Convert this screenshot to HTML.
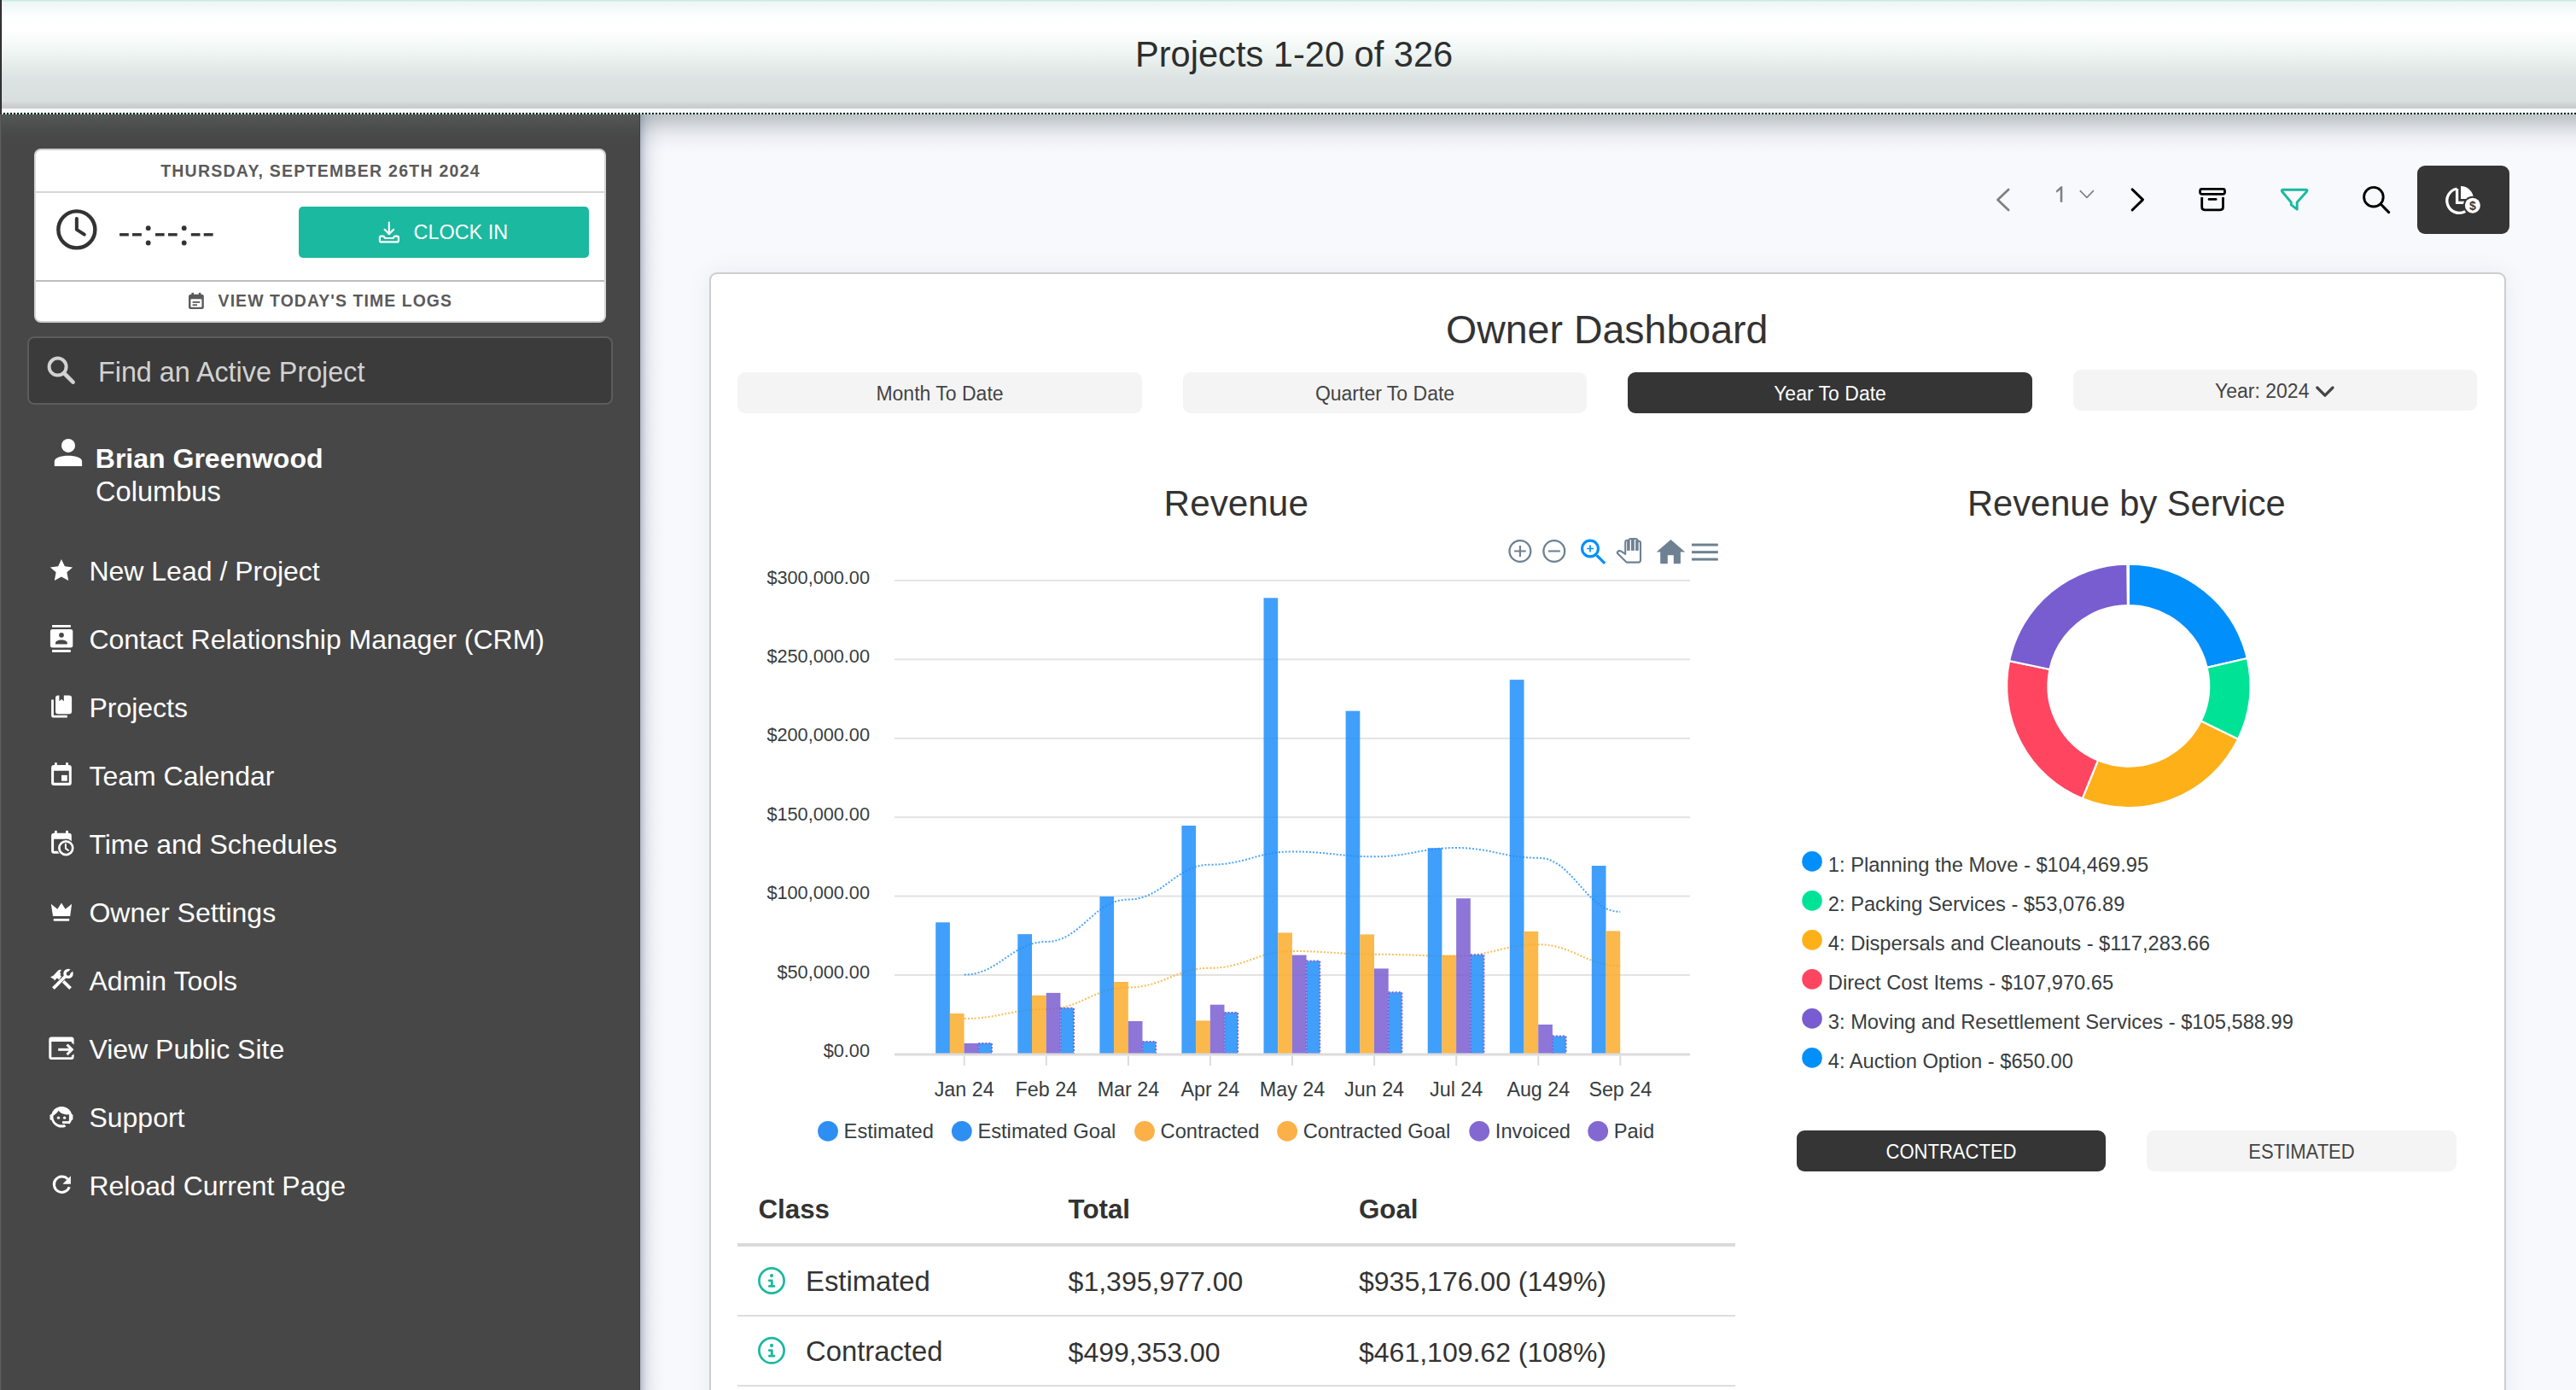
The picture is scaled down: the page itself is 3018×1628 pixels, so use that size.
<!DOCTYPE html>
<html><head><meta charset="utf-8">
<style>
*{box-sizing:border-box;margin:0;padding:0}
html,body{width:3018px;height:1628px;overflow:hidden}
body{position:relative;background:#f8f9fd;font-family:"Liberation Sans",sans-serif;color:#333}
.a{position:absolute}
.t{position:absolute;white-space:nowrap;line-height:1}
#hdr{left:0;top:0;width:3018px;height:128px;background:linear-gradient(to bottom,#c8ebe2 0,#c8ebe2 1px,#ecf7f4 2px,#f6fbfa 12px,#fdfefe 20px,#ffffff 35px,#f7fbfa 48px,#eef5f3 62px,#e5ecea 76px,#dee4e3 90px,#dbe1e1 100px,#d9dfdf 118px,#cdd1d1 123px,#c6caca 127px,#c6caca 128px)}
#hdrl{z-index:2;left:0;top:0;width:2px;height:134px;background:linear-gradient(to right,#3a3a3a 0 1px,#1f1f1f 1px 2px)}
#band{left:0;top:127px;width:3018px;height:5px;background:linear-gradient(to bottom,#f0f0f0,#fafafa 2px,#f6f6f6)}
#dots{left:0;top:132px;width:3018px;height:2px;background:repeating-linear-gradient(to right,#111 0 2px,#d6f6ef 2px 4px)}
#side{left:0;top:134px;width:750px;height:1494px;background:#474747}
#sidetop{left:0;top:134px;width:750px;height:40px;background:linear-gradient(to bottom,#545957,#4e514f 10px,#4a4c4b 18px,#484848 26px,#474747 40px)}
#sidel{left:0;top:134px;width:2px;height:1494px;background:linear-gradient(to right,#5e5e5e 0 1px,#4e4e4e 1px 2px)}
</style></head><body>
<div class="a" id="hdr"></div>
<div class="a" id="hdrl"></div>
<div class="a" id="band"></div>
<div class="a" id="dots"></div>
<div class="t" style="left:1330px;top:42.7px;font-size:41.6px;color:#2e2e2e">Projects 1-20 of 326</div>

<div class="a" id="side"></div>
<div class="a" id="sidetop"></div>
<div class="a" id="sidel"></div>

<!-- sidebar card -->

<div class="a" style="left:40px;top:174px;width:670px;height:204px;background:#fff;border:2px solid #cdcdcd;border-left-color:#d6d6d6;border-right-color:#d6d6d6;border-radius:8px"></div>
<div class="a" style="left:42px;top:223.5px;width:666px;height:2px;background:#d6d6d6"></div>
<div class="a" style="left:42px;top:328px;width:666px;height:2px;background:#bdbdbd"></div>
<div class="t" style="left:42px;width:666px;text-align:center;top:190.7px;font-size:19.5px;font-weight:bold;letter-spacing:1.25px;color:#5a5a5a;padding-left:1px">THURSDAY, SEPTEMBER 26TH 2024</div>
<div class="a" style="left:350px;top:242.4px;width:340px;height:59.4px;background:#1bb99f;border-radius:5px"></div>
<div class="t" style="left:484.6px;top:261.1px;font-size:23.4px;color:#fff">CLOCK IN</div>
<div class="t" style="left:255.6px;top:343.4px;font-size:19.4px;font-weight:bold;letter-spacing:1.1px;color:#5a5a5a">VIEW TODAY'S TIME LOGS</div>
<!-- search -->
<div class="a" style="left:32px;top:394px;width:686px;height:79.5px;background:#3b3b3b;border:2px solid #5c5c5c;border-radius:8px"></div>
<div class="t" style="left:115px;top:419.5px;font-size:32.3px;color:#d2d2d2">Find an Active Project</div>
<!-- user -->
<div class="t" style="left:111.8px;top:520.9px;font-size:32px;font-weight:bold;color:#fff">Brian Greenwood</div>
<div class="t" style="left:112px;top:559.7px;font-size:32.6px;color:#fff">Columbus</div>
<!-- nav -->
<div class="t" style="left:104.4px;top:653.4px;font-size:32px;color:#fff">New Lead / Project</div>
<div class="t" style="left:104.4px;top:732.9px;font-size:32px;color:#fff">Contact Relationship Manager (CRM)</div>
<div class="t" style="left:104.4px;top:812.9px;font-size:32px;color:#fff">Projects</div>
<div class="t" style="left:104.4px;top:892.9px;font-size:32px;color:#fff">Team Calendar</div>
<div class="t" style="left:104.4px;top:972.9px;font-size:32px;color:#fff">Time and Schedules</div>
<div class="t" style="left:104.4px;top:1052.9px;font-size:32px;color:#fff">Owner Settings</div>
<div class="t" style="left:104.4px;top:1132.9px;font-size:32px;color:#fff">Admin Tools</div>
<div class="t" style="left:104.4px;top:1212.9px;font-size:32px;color:#fff">View Public Site</div>
<div class="t" style="left:104.4px;top:1292.9px;font-size:32px;color:#fff">Support</div>
<div class="t" style="left:104.4px;top:1372.9px;font-size:32px;color:#fff">Reload Current Page</div>

<svg class="a" style="left:0;top:0" width="3018" height="1628" viewBox="0 0 3018 1628">
<!-- clock -->
<g stroke="#333" fill="none" stroke-linecap="round" stroke-linejoin="round">
<circle cx="89.85" cy="268.9" r="21.5" stroke-width="4.4"/>
<path d="M89.85 256 V268.9 L98.8 274.6" stroke-width="4"/>
</g>
<g fill="#333">
<rect x="140.1" y="273.1" width="10.7" height="3.4"/><rect x="155" y="273.1" width="10.9" height="3.4"/>
<circle cx="173.7" cy="267.2" r="2.9"/><circle cx="173.7" cy="284.5" r="2.9"/>
<rect x="182" y="273.1" width="10.6" height="3.4"/><rect x="197" y="273.1" width="10.7" height="3.4"/>
<circle cx="215.7" cy="267.2" r="2.9"/><circle cx="215.7" cy="284.5" r="2.9"/>
<rect x="223.8" y="273.1" width="10.7" height="3.4"/><rect x="238.7" y="273.1" width="10.9" height="3.4"/>
</g>
<!-- clock in icon -->
<g stroke="#fff" fill="none" stroke-width="2.2" stroke-linecap="round" stroke-linejoin="round">
<path d="M455.9 260.6 V274"/><path d="M450.6 268.8 L455.9 274.1 L461.2 268.8"/>
<path d="M449.5 276.6 H446.6 Q444.9 276.6 444.9 278.3 V281.7 Q444.9 283.4 446.6 283.4 H465.2 Q466.9 283.4 466.9 281.7 V278.3 Q466.9 276.6 465.2 276.6 H462.3 L460.6 279 H451.2 Z"/>
</g>
<!-- view logs calendar -->
<g>
<rect x="221" y="344.8" width="17.8" height="17.3" rx="2.5" fill="#5a5a5a"/>
<rect x="223.4" y="350.2" width="13" height="9.6" rx="0.8" fill="#fff"/>
<rect x="224.4" y="342.9" width="2.6" height="3" fill="#5a5a5a"/><rect x="232.8" y="342.9" width="2.6" height="3" fill="#5a5a5a"/>
<rect x="225.6" y="353" width="8.6" height="1.8" fill="#5a5a5a"/><rect x="225.6" y="356.3" width="5.4" height="1.8" fill="#5a5a5a"/>
</g>
<!-- search icon -->
<g stroke="#d2d2d2" fill="none" stroke-linecap="round">
<circle cx="67.6" cy="429.6" r="10" stroke-width="4"/>
<path d="M75 437 L85.6 447.6" stroke-width="4.6"/>
</g>
<!-- person -->
<g fill="#fff">
<circle cx="80" cy="521.9" r="8"/>
<path d="M63.8 546 V540.5 C63.8 536.2 71 533.8 80 533.8 C89 533.8 96.1 536.2 96.1 540.5 V546 Z"/>
<!-- star -->
<path d="M71.9 655.1 L75.9 663.3 L85.1 664.4 L78.4 670.2 L80.2 679.9 L71.9 675.4 L63.8 679.9 L65.6 670.2 L58.8 664.4 L68.2 663.3 Z"/>
<!-- crm -->
<rect x="61" y="732" width="21.9" height="2.8" rx="0.6"/>
<rect x="61" y="761.1" width="21.9" height="2.8" rx="0.6"/>
<path fill-rule="evenodd" d="M61.4 737.1 H82.8 Q85.3 737.1 85.3 739.6 V756.1 Q85.3 758.6 82.8 758.6 H61.4 Q58.9 758.6 58.9 756.1 V739.6 Q58.9 737.1 61.4 737.1 Z M72 740.9 A2.9 2.9 0 1 0 72 746.7 A2.9 2.9 0 1 0 72 740.9 Z M65 754.6 H78.8 V753 C78.8 750.8 75.5 749.4 71.9 749.4 C68.3 749.4 65 750.8 65 753 Z"/>
<!-- projects -->
<path fill-rule="evenodd" d="M68 814.6 H81.1 Q84.1 814.6 84.1 817.6 V833.2 Q84.1 836.2 81.1 836.2 H68 Q65 836.2 65 833.2 V817.6 Q65 814.6 68 814.6 Z M69.4 814.6 V821.3 L72.1 819 L74.8 821.3 V814.6 Z"/>
<path d="M60.1 819.5 H62.9 V837.8 H78.8 V840.6 H63 Q60.1 840.6 60.1 837.7 Z"/>
<!-- team calendar -->
<path fill-rule="evenodd" d="M63.1 896 H80.8 Q83.8 896 83.8 899 V917 Q83.8 920 80.8 920 H63.1 Q60.1 920 60.1 917 V899 Q60.1 896 63.1 896 Z M63.1 902.8 V916.8 H80.8 V902.8 Z"/>
<rect x="72" y="907.9" width="6.8" height="6.8"/>
<rect x="64" y="893.2" width="2.8" height="3.5"/><rect x="77.1" y="893.2" width="2.9" height="3.5"/>
<!-- time and schedules -->
<path fill-rule="evenodd" d="M63.1 975.7 H80.8 Q83.8 975.7 83.8 978.7 V996.8 Q83.8 999.8 80.8 999.8 H63.1 Q60.1 999.8 60.1 996.8 V978.7 Q60.1 975.7 63.1 975.7 Z M63.1 982.7 V996.8 H80.8 V982.7 Z"/>
<rect x="64" y="972.9" width="2.8" height="3.5"/><rect x="77.1" y="972.9" width="2.9" height="3.5"/>
</g>
<circle cx="77.3" cy="993.2" r="10.4" fill="#474747"/>
<g stroke="#fff" fill="none">
<circle cx="77.3" cy="993.2" r="7.9" stroke-width="2.7"/>
<path d="M76.9 988.8 V993.6 L80 996" stroke-width="2" stroke-linecap="round" stroke-linejoin="round"/>
</g>
<g fill="#fff">
<!-- crown -->
<path d="M59.8 1058.8 L67.3 1064.8 L72 1057.6 L76.6 1064.8 L84.1 1058.8 L82.2 1072.9 H62 Z"/>
<rect x="62.6" y="1076" width="18.7" height="2.7" rx="1"/>
</g>
<!-- admin tools -->
<g stroke="#fff" stroke-width="3.8" fill="none" stroke-linecap="butt">
<path d="M62.4 1157.7 L77.6 1142.5"/>
<path d="M82.6 1157.7 L74.2 1149.3"/>
</g>
<circle cx="80" cy="1140.4" r="4" fill="none" stroke="#fff" stroke-width="3.4"/>
<path d="M80.6 1139.6 L84.6 1135.6" stroke="#474747" stroke-width="3.4"/>
<path fill="#fff" d="M59 1144.4 L62.7 1142.6 L67.5 1137.2 Q69.5 1135.4 72 1136 L70 1139 L71.4 1140.3 L70.4 1142 L72 1143.6 L69.2 1147.4 L66.8 1145.6 L63.7 1148.8 L63.4 1147 Z"/>
<!-- view public site -->
<path fill="#fff" fill-rule="evenodd" d="M60.3 1214.6 H83.6 Q86.6 1214.6 86.6 1217.6 V1223.5 L83.8 1221 V1220 H60.3 V1238.2 H83.8 V1236.5 L86.6 1234.5 V1238 Q86.6 1241 83.6 1241 H60.3 Q57.3 1241 57.3 1238 V1217.6 Q57.3 1214.6 60.3 1214.6 Z"/>
<g stroke="#fff" stroke-width="3" fill="none"><path d="M68.2 1229.3 H84"/><path d="M78.5 1223.5 L84.3 1229.3 L78.5 1235.1"/></g>
<!-- support -->
<circle cx="72.2" cy="1308.2" r="12.3" fill="#fff"/>
<rect x="58.5" y="1305.2" width="3" height="6.6" rx="1" fill="#fff"/>
<rect x="82.4" y="1305.2" width="3" height="6.6" rx="1" fill="#fff"/>
<path d="M62.4 1306.8 C64.6 1305.2 67 1303.8 68.6 1300.8 C71 1304.2 74.5 1305.4 78 1305.4 L80.9 1305.2 L80.9 1312 C80.9 1314.2 79.8 1316 77.8 1316.8 C76 1317.4 74 1317.5 72 1317.5 C66.4 1317.5 62.4 1313.2 62.4 1308 Z" fill="#474747"/>
<path d="M82.44 1317.75 A14 14 0 0 1 77.67 1321.09 L75.52 1316.02 A8.5 8.5 0 0 0 78.42 1314.00 Z" fill="#474747"/>
<rect x="73.1" y="1313.2" width="8.4" height="2.8" fill="#fff"/>
<circle cx="68.5" cy="1309.2" r="1.65" fill="#fff"/><circle cx="75.6" cy="1309.2" r="1.65" fill="#fff"/>
<!-- reload -->
<g stroke="#fff" fill="none" stroke-width="3"><path d="M79.3 1380.9 A9.2 9.2 0 1 0 81.2 1390.3"/></g>
<path fill="#fff" d="M82.9 1377.2 V1386.8 H73.4 Z"/>
</svg>

<!-- main shadows -->
<div class="a" style="left:750px;top:134px;width:2268px;height:46px;background:linear-gradient(to bottom,rgba(120,130,130,.44),rgba(120,130,130,.39) 6px,rgba(122,132,136,.31) 11px,rgba(125,135,145,.21) 18px,rgba(128,138,155,.11) 26px,rgba(130,140,160,.04) 36px,rgba(130,140,160,0))"></div>
<div class="a" style="left:749px;top:134px;width:1px;height:1494px;background:#3f3f3f"></div>
<div class="a" style="left:750px;top:134px;width:32px;height:1494px;background:linear-gradient(to right,rgba(100,115,140,.47),rgba(100,115,140,.33) 3px,rgba(100,115,140,.19) 7px,rgba(100,115,140,.1) 12px,rgba(100,115,140,.04) 19px,rgba(100,115,140,0) 30px)"></div>
<!-- toolbar -->
<div class="a" style="left:2832px;top:194px;width:108px;height:80px;background:#353535;border-radius:9px"></div>
<!-- card -->
<div class="a" style="left:831px;top:318.5px;width:2105px;height:1400px;background:#fff;border:2px solid #cdcdcd;border-radius:9px;box-shadow:0 0 26px rgba(80,90,110,.09)"></div>
<div class="t" style="left:1694px;top:363.2px;font-size:46.5px;color:#333">Owner Dashboard</div>
<div class="a" style="left:864px;top:436px;width:474px;height:48px;background:#f4f4f4;border-radius:9px"></div>
<div class="a" style="left:1386px;top:436px;width:473px;height:48px;background:#f4f4f4;border-radius:9px"></div>
<div class="a" style="left:1907px;top:436px;width:474px;height:48px;background:#353535;border-radius:9px"></div>
<div class="a" style="left:2429px;top:433px;width:473px;height:48px;background:#f4f4f4;border-radius:9px"></div>
<div class="t" style="left:864px;width:474px;text-align:center;top:449.8px;font-size:23px;color:#444">Month To Date</div>
<div class="t" style="left:1386px;width:473px;text-align:center;top:449.8px;font-size:23px;color:#444">Quarter To Date</div>
<div class="t" style="left:1907px;width:474px;text-align:center;top:449.8px;font-size:23px;color:#fff">Year To Date</div>
<div class="t" style="left:2595px;top:447px;font-size:23px;color:#444">Year: 2024</div>
<div class="t" style="left:1363.6px;top:569.4px;font-size:42.3px;color:#333">Revenue</div>
<div class="t" style="left:2305px;top:568.7px;font-size:41.65px;color:#333">Revenue by Service</div>
<svg class="a" style="left:0;top:0" width="3018" height="1628" viewBox="0 0 3018 1628">
<g fill="none" stroke-linecap="round" stroke-linejoin="round">
<path d="M2353.1 221.9 L2340.5 233.9 L2353.1 246" stroke="#808080" stroke-width="2.8"/>
<path d="M2436.8 223.1 L2444.9 231.4 L2452.9 223.1" stroke="#808080" stroke-width="1.6" stroke-linecap="butt"/>
<path d="M2498.1 221.9 L2510.5 233.9 L2498.1 246" stroke="#000" stroke-width="3"/>
<rect x="2577.6" y="221.4" width="28.9" height="5.9" rx="2" stroke="#000" stroke-width="2.8"/>
<path d="M2579.7 231 V242.6 Q2579.7 245.8 2582.9 245.8 H2601.3 Q2604.5 245.8 2604.5 242.6 V231" stroke="#000" stroke-width="2.8" stroke-linecap="butt"/>
<path d="M2588 233.4 H2596.2" stroke="#000" stroke-width="2.6"/>
<path d="M2674.6 222.2 H2702 Q2703.8 222.7 2702.6 224.2 L2691.2 237 V245.2 L2684.3 239.8 V237 L2673.6 224.2 Q2672.6 222.7 2674.6 222.2 Z" stroke="#1bb99f" stroke-width="2.9"/>
<circle cx="2780.9" cy="230.7" r="11.3" stroke="#000" stroke-width="2.9"/>
<path d="M2790.2 240 L2798.6 248.6" stroke="#000" stroke-width="3.1"/>
<path d="M2878.5 221 A14.3 14.3 0 1 0 2888.5 247.3" stroke="#fff" stroke-width="3.3" stroke-linecap="butt"/>
<path d="M2878.6 221 V237.4 H2887.2" stroke="#fff" stroke-width="3.3" stroke-linecap="butt" stroke-linejoin="miter"/>
</g>
<path d="M2883 233 V218 A15 15 0 0 1 2898 233 Z" fill="#fff"/>
<circle cx="2896.9" cy="240.7" r="11" fill="#353535"/>
<circle cx="2896.9" cy="240.7" r="9" fill="#fff"/>
<text x="2896.9" y="245.9" text-anchor="middle" font-family="Liberation Sans" font-weight="bold" font-size="14" fill="#353535">$</text>
<path d="M2408.8 223.6 L2414.4 218.2 H2416.3 V236.8 H2413.7 V222.3 L2409.6 225.8 Z" fill="#808080"/>
<path d="M2714.8 454 L2723.9 463.2 L2733 454" fill="none" stroke="#444" stroke-width="3.2" stroke-linecap="round" stroke-linejoin="round"/>
</svg>

<!-- right/table -->
<div class="a" style="left:2105px;top:1324px;width:362px;height:48px;background:#353535;border-radius:9px"></div>
<div class="a" style="left:2515px;top:1324px;width:363px;height:48px;background:#f4f4f4;border-radius:9px"></div>
<div class="t" style="left:2105px;width:362px;text-align:center;top:1337.4px;font-size:24px;color:#fff;transform:scaleX(0.918)">CONTRACTED</div>
<div class="t" style="left:2515px;width:363px;text-align:center;top:1337.4px;font-size:24px;color:#444;transform:scaleX(0.918)">ESTIMATED</div>
<div class="a" style="left:864px;top:1456px;width:1169px;height:4px;background:#dadada"></div>
<div class="a" style="left:864px;top:1540px;width:1169px;height:2px;background:#dedede"></div>
<div class="a" style="left:864px;top:1622.3px;width:1169px;height:2px;background:#dedede"></div>
<div class="t" style="left:888.5px;top:1401.4px;font-size:31.3px;font-weight:bold;color:#333">Class</div>
<div class="t" style="left:1251.6px;top:1401.4px;font-size:31.3px;font-weight:bold;color:#333">Total</div>
<div class="t" style="left:1592px;top:1401.4px;font-size:31.3px;font-weight:bold;color:#333">Goal</div>
<div class="t" style="left:944px;top:1484.7px;font-size:32.8px;color:#333">Estimated</div>
<div class="t" style="left:1251.6px;top:1485.4px;font-size:32px;color:#333">$1,395,977.00</div>
<div class="t" style="left:1592px;top:1485.4px;font-size:32px;color:#333">$935,176.00 (149%)</div>
<div class="t" style="left:944px;top:1567.2px;font-size:32.8px;color:#333">Contracted</div>
<div class="t" style="left:1251.6px;top:1567.9px;font-size:32px;color:#333">$499,353.00</div>
<div class="t" style="left:1592px;top:1567.9px;font-size:32px;color:#333">$461,109.62 (108%)</div>
<svg class="a" id="chart" style="left:0;top:0" width="3018" height="1628" viewBox="0 0 3018 1628" font-family="Liberation Sans">
<rect x="1048" y="678.9" width="932" height="2" fill="#e3e3e3"/>
<rect x="1048" y="771.3" width="932" height="2" fill="#e3e3e3"/>
<rect x="1048" y="863.8" width="932" height="2" fill="#e3e3e3"/>
<rect x="1048" y="956.2" width="932" height="2" fill="#e3e3e3"/>
<rect x="1048" y="1048.6" width="932" height="2" fill="#e3e3e3"/>
<rect x="1048" y="1141.0" width="932" height="2" fill="#e3e3e3"/>
<path d="M1129.7 1141.6 C1170.1 1141.6 1185.4 1103.0 1225.8 1103.0 C1266.1 1103.0 1281.5 1053.5 1321.9 1053.5 C1362.2 1053.5 1377.6 1012.7 1417.9 1012.7 C1458.3 1012.7 1473.7 997.4 1514.0 997.4 C1554.4 997.4 1569.7 1003.3 1610.1 1003.3 C1650.5 1003.3 1665.8 993.0 1706.2 993.0 C1746.5 993.0 1761.9 1004.8 1802.3 1004.8 C1842.6 1004.8 1858.0 1067.9 1898.3 1067.9" fill="none" stroke="#409ffa" stroke-width="2" stroke-dasharray="2 2" opacity=".95"/>
<path d="M1129.7 1193.0 C1170.1 1193.0 1185.4 1182.0 1225.8 1182.0 C1266.1 1182.0 1281.5 1156.5 1321.9 1156.5 C1362.2 1156.5 1377.6 1133.8 1417.9 1133.8 C1458.3 1133.8 1473.7 1114.0 1514.0 1114.0 C1554.4 1114.0 1569.7 1117.7 1610.1 1117.7 C1650.5 1117.7 1665.8 1119.7 1706.2 1119.7 C1746.5 1119.7 1761.9 1106.2 1802.3 1106.2 C1842.6 1106.2 1858.0 1131.2 1898.3 1131.2" fill="none" stroke="#fbb84c" stroke-width="2" stroke-dasharray="2 2" opacity=".95"/>
<rect x="1096.2" y="1080.3" width="16.7" height="153.7" fill="#1e8ef9" fill-opacity=".85"/>
<rect x="1112.9" y="1187.0" width="16.7" height="47.0" fill="#faac2c" fill-opacity=".85"/>
<rect x="1129.6" y="1221.9" width="16.7" height="12.1" fill="#795ed1" fill-opacity=".85"/>
<rect x="1146.3" y="1221.9" width="15.7" height="12.1" fill="#1e8ef9" fill-opacity=".85"/>
<rect x="1146.3" y="1221.9" width="15.7" height="12.1" fill="none" stroke="#7f62d6" stroke-width="2" stroke-dasharray="2 2"/>
<rect x="1192.3" y="1094.1" width="16.7" height="139.9" fill="#1e8ef9" fill-opacity=".85"/>
<rect x="1209.0" y="1165.8" width="16.7" height="68.2" fill="#faac2c" fill-opacity=".85"/>
<rect x="1225.7" y="1162.9" width="16.7" height="71.1" fill="#795ed1" fill-opacity=".85"/>
<rect x="1242.4" y="1180.7" width="15.7" height="53.3" fill="#1e8ef9" fill-opacity=".85"/>
<rect x="1242.4" y="1180.7" width="15.7" height="53.3" fill="none" stroke="#7f62d6" stroke-width="2" stroke-dasharray="2 2"/>
<rect x="1288.4" y="1050.0" width="16.7" height="184.0" fill="#1e8ef9" fill-opacity=".85"/>
<rect x="1305.1" y="1150.0" width="16.7" height="84.0" fill="#faac2c" fill-opacity=".85"/>
<rect x="1321.8" y="1196.0" width="16.7" height="38.0" fill="#795ed1" fill-opacity=".85"/>
<rect x="1338.5" y="1219.9" width="15.7" height="14.1" fill="#1e8ef9" fill-opacity=".85"/>
<rect x="1338.5" y="1219.9" width="15.7" height="14.1" fill="none" stroke="#7f62d6" stroke-width="2" stroke-dasharray="2 2"/>
<rect x="1384.4" y="967.0" width="16.7" height="267.0" fill="#1e8ef9" fill-opacity=".85"/>
<rect x="1401.1" y="1195.4" width="16.7" height="38.6" fill="#faac2c" fill-opacity=".85"/>
<rect x="1417.8" y="1176.7" width="16.7" height="57.3" fill="#795ed1" fill-opacity=".85"/>
<rect x="1434.5" y="1185.9" width="15.7" height="48.1" fill="#1e8ef9" fill-opacity=".85"/>
<rect x="1434.5" y="1185.9" width="15.7" height="48.1" fill="none" stroke="#7f62d6" stroke-width="2" stroke-dasharray="2 2"/>
<rect x="1480.5" y="700.3" width="16.7" height="533.7" fill="#1e8ef9" fill-opacity=".85"/>
<rect x="1497.2" y="1092.4" width="16.7" height="141.6" fill="#faac2c" fill-opacity=".85"/>
<rect x="1513.9" y="1118.6" width="16.7" height="115.4" fill="#795ed1" fill-opacity=".85"/>
<rect x="1530.6" y="1125.5" width="15.7" height="108.5" fill="#1e8ef9" fill-opacity=".85"/>
<rect x="1530.6" y="1125.5" width="15.7" height="108.5" fill="none" stroke="#7f62d6" stroke-width="2" stroke-dasharray="2 2"/>
<rect x="1576.6" y="832.7" width="16.7" height="401.3" fill="#1e8ef9" fill-opacity=".85"/>
<rect x="1593.3" y="1094.4" width="16.7" height="139.6" fill="#faac2c" fill-opacity=".85"/>
<rect x="1610.0" y="1134.4" width="16.7" height="99.6" fill="#795ed1" fill-opacity=".85"/>
<rect x="1626.7" y="1162.3" width="15.7" height="71.7" fill="#1e8ef9" fill-opacity=".85"/>
<rect x="1626.7" y="1162.3" width="15.7" height="71.7" fill="none" stroke="#7f62d6" stroke-width="2" stroke-dasharray="2 2"/>
<rect x="1672.7" y="993.2" width="16.7" height="240.8" fill="#1e8ef9" fill-opacity=".85"/>
<rect x="1689.4" y="1118.8" width="16.7" height="115.2" fill="#faac2c" fill-opacity=".85"/>
<rect x="1706.1" y="1052.2" width="16.7" height="181.8" fill="#795ed1" fill-opacity=".85"/>
<rect x="1722.8" y="1118.3" width="15.7" height="115.7" fill="#1e8ef9" fill-opacity=".85"/>
<rect x="1722.8" y="1118.3" width="15.7" height="115.7" fill="none" stroke="#7f62d6" stroke-width="2" stroke-dasharray="2 2"/>
<rect x="1768.8" y="796.1" width="16.7" height="437.9" fill="#1e8ef9" fill-opacity=".85"/>
<rect x="1785.5" y="1090.9" width="16.7" height="143.1" fill="#faac2c" fill-opacity=".85"/>
<rect x="1802.2" y="1200.0" width="16.7" height="34.0" fill="#795ed1" fill-opacity=".85"/>
<rect x="1818.9" y="1213.5" width="15.7" height="20.5" fill="#1e8ef9" fill-opacity=".85"/>
<rect x="1818.9" y="1213.5" width="15.7" height="20.5" fill="none" stroke="#7f62d6" stroke-width="2" stroke-dasharray="2 2"/>
<rect x="1864.8" y="1014.0" width="16.7" height="220.0" fill="#1e8ef9" fill-opacity=".85"/>
<rect x="1881.5" y="1090.4" width="16.7" height="143.6" fill="#faac2c" fill-opacity=".85"/>
<rect x="1048" y="1233.5" width="932" height="3" fill="#dcdcdc"/>
<rect x="1128.7" y="1236.5" width="2" height="11.5" fill="#dcdcdc"/>
<rect x="1224.8" y="1236.5" width="2" height="11.5" fill="#dcdcdc"/>
<rect x="1320.9" y="1236.5" width="2" height="11.5" fill="#dcdcdc"/>
<rect x="1416.9" y="1236.5" width="2" height="11.5" fill="#dcdcdc"/>
<rect x="1513.0" y="1236.5" width="2" height="11.5" fill="#dcdcdc"/>
<rect x="1609.1" y="1236.5" width="2" height="11.5" fill="#dcdcdc"/>
<rect x="1705.2" y="1236.5" width="2" height="11.5" fill="#dcdcdc"/>
<rect x="1801.3" y="1236.5" width="2" height="11.5" fill="#dcdcdc"/>
<rect x="1897.3" y="1236.5" width="2" height="11.5" fill="#dcdcdc"/>
<text x="1019" y="683.5" text-anchor="end" font-size="21.7" fill="#373d3f">$300,000.00</text>
<text x="1019" y="775.9" text-anchor="end" font-size="21.7" fill="#373d3f">$250,000.00</text>
<text x="1019" y="868.4" text-anchor="end" font-size="21.7" fill="#373d3f">$200,000.00</text>
<text x="1019" y="960.8" text-anchor="end" font-size="21.7" fill="#373d3f">$150,000.00</text>
<text x="1019" y="1053.2" text-anchor="end" font-size="21.7" fill="#373d3f">$100,000.00</text>
<text x="1019" y="1145.6" text-anchor="end" font-size="21.7" fill="#373d3f">$50,000.00</text>
<text x="1019" y="1238.1" text-anchor="end" font-size="21.7" fill="#373d3f">$0.00</text>
<text x="1129.7" y="1283.7" text-anchor="middle" font-size="23.3" fill="#373d3f">Jan 24</text>
<text x="1225.8" y="1283.7" text-anchor="middle" font-size="23.3" fill="#373d3f">Feb 24</text>
<text x="1321.9" y="1283.7" text-anchor="middle" font-size="23.3" fill="#373d3f">Mar 24</text>
<text x="1417.9" y="1283.7" text-anchor="middle" font-size="23.3" fill="#373d3f">Apr 24</text>
<text x="1514.0" y="1283.7" text-anchor="middle" font-size="23.3" fill="#373d3f">May 24</text>
<text x="1610.1" y="1283.7" text-anchor="middle" font-size="23.3" fill="#373d3f">Jun 24</text>
<text x="1706.2" y="1283.7" text-anchor="middle" font-size="23.3" fill="#373d3f">Jul 24</text>
<text x="1802.3" y="1283.7" text-anchor="middle" font-size="23.3" fill="#373d3f">Aug 24</text>
<text x="1898.3" y="1283.7" text-anchor="middle" font-size="23.3" fill="#373d3f">Sep 24</text>
<circle cx="970" cy="1324.9" r="11.9" fill="#2e8ff2"/>
<text x="988.6" y="1333.2" font-size="23.7" fill="#373d3f">Estimated</text>
<circle cx="1126.8" cy="1324.9" r="11.9" fill="#2e8ff2"/>
<text x="1145.4" y="1333.2" font-size="23.7" fill="#373d3f">Estimated Goal</text>
<circle cx="1341" cy="1324.9" r="11.9" fill="#fbb147"/>
<text x="1359.6" y="1333.2" font-size="23.7" fill="#373d3f">Contracted</text>
<circle cx="1508.1" cy="1324.9" r="11.9" fill="#fbb147"/>
<text x="1526.7" y="1333.2" font-size="23.7" fill="#373d3f">Contracted Goal</text>
<circle cx="1733.2" cy="1324.9" r="11.9" fill="#8368d2"/>
<text x="1751.8" y="1333.2" font-size="23.7" fill="#373d3f">Invoiced</text>
<circle cx="1872.2" cy="1324.9" r="11.9" fill="#8368d2"/>
<text x="1890.8" y="1333.2" font-size="23.7" fill="#373d3f">Paid</text>
<g fill="none" stroke="#6e8192">
<circle cx="1780.9" cy="645.5" r="12.4" stroke-width="2.3"/>
<path d="M1774.1 645.5 H1787.8 M1780.9 638.9 V652.3" stroke-width="2.1"/>
<circle cx="1820.8" cy="645.5" r="12.4" stroke-width="2.3"/>
<path d="M1814 645.5 H1827.8" stroke-width="2.1"/>
</g>
<g fill="none" stroke="#008ffb">
<circle cx="1863" cy="642.5" r="9.4" stroke-width="3.1"/>
<path d="M1859.2 642.5 H1867 M1863 638.6 V646.4" stroke-width="1.7"/>
<path d="M1870.6 650.3 L1880.2 659.9" stroke-width="3.3"/>
</g>
<g fill="#6e8192">
<path d="M1957.5 631.9 L1974.2 646.6 H1968.9 V660.3 H1960.8 V650.2 H1953.8 V660.3 H1945.2 V646.6 H1940.7 Z"/>
<rect x="1982" y="636.6" width="30.8" height="3"/>
<rect x="1982" y="645.2" width="30.8" height="3"/>
<rect x="1982" y="653.6" width="30.8" height="3"/>
</g>
<g>
<path d="M1905.6 658.6 L1895.4 648.6 Q1894.2 647.2 1895.5 645.9 Q1897.2 644.4 1899.2 645.7 L1904.2 648.9 V635.2 Q1904.2 632.7 1906.5 632.7 H1908.2 Q1908.7 631 1910.6 631 H1916.4 Q1918.3 631 1918.9 633.8 H1919.9 Q1922 633.8 1922 636.2 V656 Q1922 658.6 1919.4 658.6 Z" fill="none" stroke="#6e8192" stroke-width="2.1" stroke-linejoin="round"/>
<rect x="1906.1" y="632.5" width="3.6" height="12.4" fill="#6e8192"/>
<rect x="1911" y="631" width="3.8" height="13.9" fill="#6e8192"/>
<rect x="1916.1" y="632.5" width="3.6" height="12.4" fill="#6e8192"/>
</g>

<path d="M2493.80 660.60 A142.7 142.7 0 0 1 2632.79 770.97 L2585.65 781.93 A94.3 94.3 0 0 0 2493.80 709.00 Z" fill="#008ffb" stroke="#fff" stroke-width="2.2" stroke-linejoin="round"/>
<path d="M2632.79 770.97 A142.7 142.7 0 0 1 2622.08 865.80 L2578.57 844.60 A94.3 94.3 0 0 0 2585.65 781.93 Z" fill="#00e396" stroke="#fff" stroke-width="2.2" stroke-linejoin="round"/>
<path d="M2622.08 865.80 A142.7 142.7 0 0 1 2439.62 935.32 L2458.00 890.54 A94.3 94.3 0 0 0 2578.57 844.60 Z" fill="#feb019" stroke="#fff" stroke-width="2.2" stroke-linejoin="round"/>
<path d="M2439.62 935.32 A142.7 142.7 0 0 1 2354.11 774.13 L2401.49 784.03 A94.3 94.3 0 0 0 2458.00 890.54 Z" fill="#ff4560" stroke="#fff" stroke-width="2.2" stroke-linejoin="round"/>
<path d="M2354.11 774.13 A142.7 142.7 0 0 1 2492.61 660.60 L2493.01 709.00 A94.3 94.3 0 0 0 2401.49 784.03 Z" fill="#775dd0" stroke="#fff" stroke-width="2.2" stroke-linejoin="round"/>
<path d="M2492.61 660.60 A142.7 142.7 0 0 1 2493.80 660.60 L2493.80 709.00 A94.3 94.3 0 0 0 2493.01 709.00 Z" fill="#ffffff" stroke="#fff" stroke-width="2.2" stroke-linejoin="round"/>
<circle cx="2123" cy="1008.9" r="11.8" fill="#008ffb"/>
<text x="2141.8" y="1021.0" font-size="23.7" fill="#373d3f">1: Planning the Move - $104,469.95</text>
<circle cx="2123" cy="1054.9" r="11.8" fill="#00e396"/>
<text x="2141.8" y="1067.0" font-size="23.7" fill="#373d3f">2: Packing Services - $53,076.89</text>
<circle cx="2123" cy="1100.9" r="11.8" fill="#feb019"/>
<text x="2141.8" y="1113.0" font-size="23.7" fill="#373d3f">4: Dispersals and Cleanouts - $117,283.66</text>
<circle cx="2123" cy="1146.9" r="11.8" fill="#ff4560"/>
<text x="2141.8" y="1159.0" font-size="23.7" fill="#373d3f">Direct Cost Items - $107,970.65</text>
<circle cx="2123" cy="1192.9" r="11.8" fill="#775dd0"/>
<text x="2141.8" y="1205.0" font-size="23.7" fill="#373d3f">3: Moving and Resettlement Services - $105,588.99</text>
<circle cx="2123" cy="1238.9" r="11.8" fill="#008ffb"/>
<text x="2141.8" y="1251.0" font-size="23.7" fill="#373d3f">4: Auction Option - $650.00</text>
<circle cx="904" cy="1500" r="14.6" fill="none" stroke="#1bb99f" stroke-width="2.7"/>
<circle cx="904" cy="1494.1" r="2.1" fill="#1bb99f"/>
<path d="M901.2 1499.8 H904.3 V1506.0 M901.3 1506.4 H906.9" fill="none" stroke="#1bb99f" stroke-width="2.8" stroke-linecap="round" stroke-linejoin="round"/>
<circle cx="904" cy="1581.8" r="14.6" fill="none" stroke="#1bb99f" stroke-width="2.7"/>
<circle cx="904" cy="1575.9" r="2.1" fill="#1bb99f"/>
<path d="M901.2 1581.6 H904.3 V1587.8 M901.3 1588.2 H906.9" fill="none" stroke="#1bb99f" stroke-width="2.8" stroke-linecap="round" stroke-linejoin="round"/>
</svg>
</body></html>
